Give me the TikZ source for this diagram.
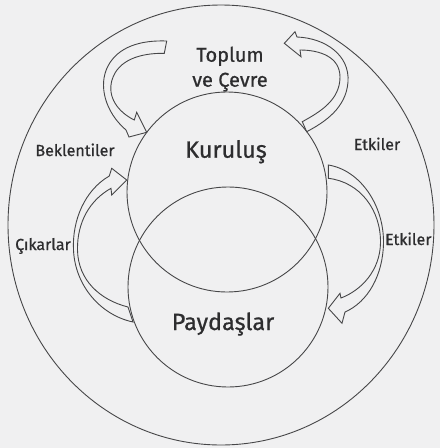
\documentclass[tikz,border=0pt]{standalone}
\usepackage{fontspec}
\setmainfont{Fira Sans}[FakeBold=0.7]
\definecolor{bg}{RGB}{240,240,241}
\definecolor{ln}{RGB}{70,70,72}
\definecolor{tx}{RGB}{45,45,47}
\begin{document}
\begin{tikzpicture}[x=1pt,y=-1pt,
  ring/.style={draw=ln,line width=0.9pt},
  blockarrow/.style={draw=ln,line width=0.9pt,line join=miter,fill=bg},
  small/.style={text=tx,font=\fontsize{16}{18}\selectfont,anchor=base,inner sep=0pt},
  big/.style={text=tx,font=\fontsize{23.5}{26}\selectfont,anchor=base,inner sep=0pt},
  mid/.style={text=tx,font=\fontsize{20}{24}\selectfont,anchor=base,inner sep=0pt}]
\fill[bg] (0,0) rectangle (440,448);
\useasboundingbox (0,0) rectangle (440,448);
% outer ring
\draw[ring] (221,225) ellipse [x radius=213pt, y radius=220pt];
% two circles
\node[ring,circle,minimum size=200pt,inner sep=0pt] (kurc) at (227,192) {};
\node[ring,circle,minimum size=200pt,inner sep=0pt] (payc) at (228,287) {};
% top-left arrow
\draw[blockarrow] (166.7,41) -- (164.3,53.3)
  .. controls (140,53) and (118,60) .. (112,80)
  .. controls (107,97) and (118,112) .. (134.3,120)
  -- (136.7,112.3) -- (146.7,132.3) -- (129,137) -- (126,130)
  .. controls (105,112) and (98,85) .. (108,66)
  .. controls (118,47) and (140,40) .. cycle;
% top-right arrow
\draw[blockarrow] (284.3,43.3) -- (295,31.7) -- (297,37)
  .. controls (325,38) and (350,55) .. (348,82)
  .. controls (346,108) and (325,122) .. (306.7,131.7)
  -- (302.3,121.7)
  .. controls (320,112) and (340,100) .. (340,77)
  .. controls (340,57) and (320,50) .. (300,50)
  -- (301,56.7) -- cycle;
% left arrow
\draw[blockarrow] (126.7,180) -- (111.7,168.3) -- (109.3,176)
  .. controls (85,190) and (72,220) .. (73.5,250)
  .. controls (75,285) and (100,315) .. (133,322)
  -- (128,307)
  .. controls (100,300) and (78,280) .. (77.5,250)
  .. controls (77,222) and (90,200) .. (111,188.3)
  -- (111.7,195) -- cycle;
% right arrow
\draw[blockarrow] (328.3,165)
  .. controls (360,170) and (384,205) .. (383.5,243)
  .. controls (383,275) and (368,302) .. (345,312)
  -- (342,323.3) -- (328.3,308.3) -- (340,293.3) -- (341,298)
  .. controls (362,290) and (380,270) .. (380.5,243)
  .. controls (381,210) and (360,182) .. (328.3,178.3) -- cycle;
% texts
\node[mid] (toplum) at (230,61.7) {Toplum};
\node[mid] (cevre) at (230,86.7) {ve Çevre};
\node[big] (kur) at (226,157.7) {Kuruluş};
\node[big] (pay) at (223,330) {Paydaşlar};
\node[small] (bek) at (75,156) {Beklentiler};
\node[small] (etk1) at (377,150) {Etkiler};
\node[small] (cik) at (43,250) {Çıkarlar};
\node[small] (etk2) at (408.3,245) {Etkiler};
\end{tikzpicture}
\end{document}
